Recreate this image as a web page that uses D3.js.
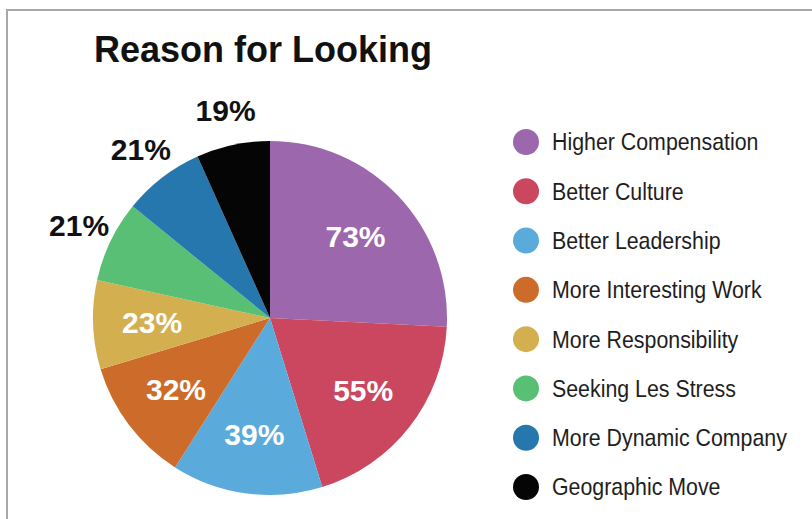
<!DOCTYPE html>
<html>
<head>
<meta charset="utf-8">
<script src="https://cdn.jsdelivr.net/npm/d3@7/dist/d3.min.js"></script>
<style>
  html, body { margin: 0; padding: 0; background: #fff; }
  svg { display: block; }
</style>
</head>
<body>
<script>
// Survey: reasons people give for looking for a new job
const categories = [
  "Higher Compensation",
  "Better Culture",
  "Better Leadership",
  "More Interesting Work",
  "More Responsibility",
  "Seeking Les Stress",
  "More Dynamic Company",
  "Geographic Move"
];
const values = [73, 55, 39, 32, 23, 21, 21, 19];
const colors = ["#9d67ae", "#cb4760", "#5aabdc", "#cc6b2a", "#d4af50", "#58bf74", "#2677ad", "#050505"];
// slices whose label sits outside the pie
const outsideLabel = [false, false, false, false, false, true, true, true];
const title = "Reason for Looking";

const W = 812, H = 519;
const svg = d3.select("body").append("svg").attr("width", W).attr("height", H);

// frame lines along the top and left edges
svg.append("path")
  .attr("d", `M7,${H} L7,10 L${W},10`)
  .attr("fill", "none")
  .attr("stroke", "#a8a8a8")
  .attr("stroke-width", 2);

svg.append("text")
  .attr("x", 94).attr("y", 62)
  .attr("font-family", "'Liberation Sans', Arial, sans-serif")
  .attr("font-weight", "bold")
  .attr("font-size", 36)
  .attr("fill", "#111")
  .text(title);

// pie
const cx = 270, cy = 318, R = 177;
const pie = d3.pie().sort(null).value(d => d)(values);
const arc = d3.arc().innerRadius(0).outerRadius(R);
const inLabelArc = d3.arc().innerRadius(118).outerRadius(118);
const outLabelArc = d3.arc().innerRadius(212).outerRadius(212);

const g = svg.append("g").attr("transform", `translate(${cx},${cy})`);

g.selectAll("path.slice")
  .data(pie)
  .join("path")
  .attr("class", "slice")
  .attr("d", arc)
  .attr("fill", (d, i) => colors[i]);

g.selectAll("text.pct")
  .data(pie)
  .join("text")
  .attr("class", "pct")
  .attr("transform", (d, i) => {
    const c = (outsideLabel[i] ? outLabelArc : inLabelArc).centroid(d);
    return `translate(${c[0]},${c[1]})`;
  })
  .attr("text-anchor", "middle")
  .attr("dominant-baseline", "central")
  .attr("font-family", "'Liberation Sans', Arial, sans-serif")
  .attr("font-weight", "bold")
  .attr("font-size", (d, i) => outsideLabel[i] ? 30 : 30)
  .attr("fill", (d, i) => outsideLabel[i] ? "#111" : "#fff")
  .text(d => d.data + "%");

// legend
const legendY = d3.scalePoint().domain(categories).range([142, 487]);
const lg = svg.append("g");
const items = lg.selectAll("g.item")
  .data(categories)
  .join("g")
  .attr("class", "item")
  .attr("transform", d => `translate(526,${legendY(d)})`);

items.append("circle")
  .attr("r", 13)
  .attr("fill", (d, i) => colors[i]);

items.append("text")
  .attr("transform", "translate(26,0) scale(0.89,1)")
  .attr("dominant-baseline", "central")
  .attr("font-family", "'Liberation Sans', Arial, sans-serif")
  .attr("font-size", 24)
  .attr("fill", "#1e1e1e")
  .text(d => d);
</script>
</body>
</html>
